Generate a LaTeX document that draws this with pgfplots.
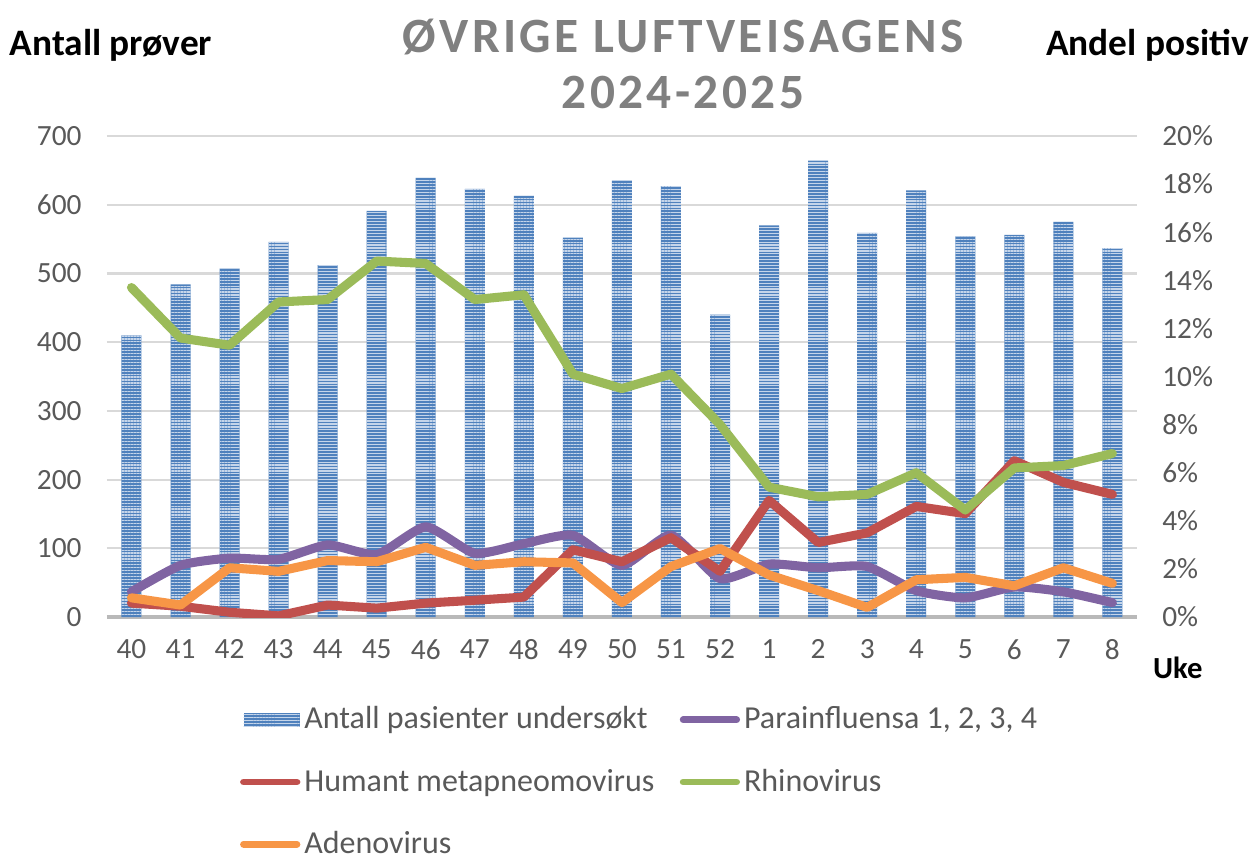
\documentclass[border=0pt]{standalone}
\usepackage{pgfplots}
\pgfplotsset{compat=1.18}
\usepackage{fontspec}
\setmainfont{Carlito}
\newfontfamily\titlefont[LetterSpace=7]{Carlito}
\usetikzlibrary{patterns.meta}
\definecolor{barblue}{HTML}{4F81BD}
\definecolor{stripe}{HTML}{C5D5EA}
\definecolor{rhino}{HTML}{9BBB59}
\definecolor{hmpv}{HTML}{C0504D}
\definecolor{para}{HTML}{8064A2}
\definecolor{adeno}{HTML}{F79646}
\definecolor{txtgray}{HTML}{595959}
\definecolor{gridgray}{HTML}{D9D9D9}

% antall pasienter per uke
\pgfplotstableread{
x n
0 410
1 484
2 507
3 546
4 512
5 591
6 639
7 623
8 613
9 552
10 635
11 627
12 440
13 570
14 664
15 559
16 621
17 554
18 556
19 575
20 537
}\antall

% andel positive (%)
\pgfplotstableread{
x para hmpv rhino adeno
0 1.05 0.58 13.7 0.80
1 2.15 0.45 11.6 0.50
2 2.45 0.20 11.3 2.05
3 2.40 0.05 13.1 1.90
4 3.00 0.50 13.2 2.35
5 2.60 0.37 14.8 2.30
6 3.75 0.58 14.7 2.90
7 2.65 0.70 13.2 2.15
8 3.05 0.83 13.4 2.30
9 3.40 2.80 10.1 2.25
10 2.15 2.30 9.5 0.60
11 3.40 3.30 10.1 2.10
12 1.60 1.90 8.0 2.85
13 2.20 4.85 5.4 1.75
14 2.05 3.10 5.0 1.10
15 2.10 3.50 5.1 0.40
16 1.10 4.60 6.0 1.55
17 0.80 4.30 4.45 1.65
18 1.25 6.50 6.2 1.30
19 1.05 5.60 6.3 2.05
20 0.60 5.10 6.8 1.40
}\andel

\pgfplotsset{
  common/.style={
    scale only axis,
    width=386.25pt, height=180.4pt,
    xmin=-0.5, xmax=20.5,
    major tick length=0pt,
    tick label style={font=\fontsize{11}{13}\selectfont, text=txtgray},
    /pgf/number format/assume math mode=true,
  },
}

\begin{document}
\begin{tikzpicture}
\useasboundingbox (-40.1pt,-91.5pt) rectangle (432.4pt,231.4pt);

\begin{axis}[
    common,
    ymin=0, ymax=700,
    ytick={0,100,...,700},
    axis x line*=bottom,
    axis y line*=left,
    y axis line style={draw=none},
    x axis line style={draw=gray!55, line width=1.3pt},
    ymajorgrids,
    major grid style={gridgray, line width=0.8pt},
    xtick=data,
    xticklabels={40,41,42,43,44,45,46,47,48,49,50,51,52,1,2,3,4,5,6,7,8},
    xticklabel style={yshift=-5pt},
    yticklabel style={xshift=-6pt},
  ]
  \addplot[ybar, bar width=7.5pt, draw=none, fill=barblue,
    postaction={pattern={Lines[angle=0,distance=1.1pt,line width=0.45pt]}, pattern color=stripe}]
    table[x=x, y=n] {\antall};
\end{axis}

\begin{axis}[
    common,
    ymin=0, ymax=20,
    ytick={0,2,...,20},
    axis x line=none,
    axis y line*=right,
    y axis line style={draw=none},
    yticklabel={\pgfmathprintnumber{\tick}\%},
    yticklabel style={xshift=6pt},
    legend columns=2,
    legend style={
      at={(0.121,-0.163)}, anchor=north west,
      draw=none, fill=none,
      font=\fontsize{12}{14}\selectfont, text=txtgray,
      row sep=9.5pt,
      cells={anchor=west},
      nodes={inner xsep=1.5pt},
      /tikz/every even column/.append style={column sep=8pt},
    },
    every axis plot/.append style={line width=3.4pt, line join=round, line cap=round},
    legend image code/.code={\draw[line width=2.6pt, line cap=round] (0pt,0pt) -- (20pt,0pt);},
  ]
  \addlegendimage{draw=none, fill=barblue, legend image code/.code={
      \path[fill=barblue] (0pt,-2.6pt) rectangle (21pt,2.6pt);
      \path[pattern={Lines[angle=0,distance=1.1pt,line width=0.45pt]}, pattern color=stripe] (0pt,-2.6pt) rectangle (21pt,2.6pt);}}
  \addlegendentry{Antall pasienter undersøkt}
  \addplot[para, smooth, tension=0.35] table[x=x, y=para] {\andel};
  \addlegendentry{Parainfluensa 1, 2, 3, 4}
  \addplot[hmpv] table[x=x, y=hmpv] {\andel};
  \addlegendentry{Humant metapneomovirus}
  \addplot[rhino] table[x=x, y=rhino] {\andel};
  \addlegendentry{Rhinovirus}
  \addplot[adeno] table[x=x, y=adeno] {\andel};
  \addlegendentry{Adenovirus}
\end{axis}

\node[font=\titlefont\bfseries\fontsize{18.5}{21}\selectfont, text=gray, align=center]
  at (216pt,207.6pt) {ØVRIGE LUFTVEISAGENS\\2024-2025};
\node[font=\bfseries\fontsize{14}{16}\selectfont] at (1.5pt,214.5pt) {Antall prøver};
\node[font=\bfseries\fontsize{14}{16}\selectfont] at (390.2pt,214.5pt) {Andel positiv};
\node[font=\bfseries\fontsize{11.5}{13}\selectfont] at (401.6pt,-19.1pt) {Uke};
\end{tikzpicture}
\end{document}
